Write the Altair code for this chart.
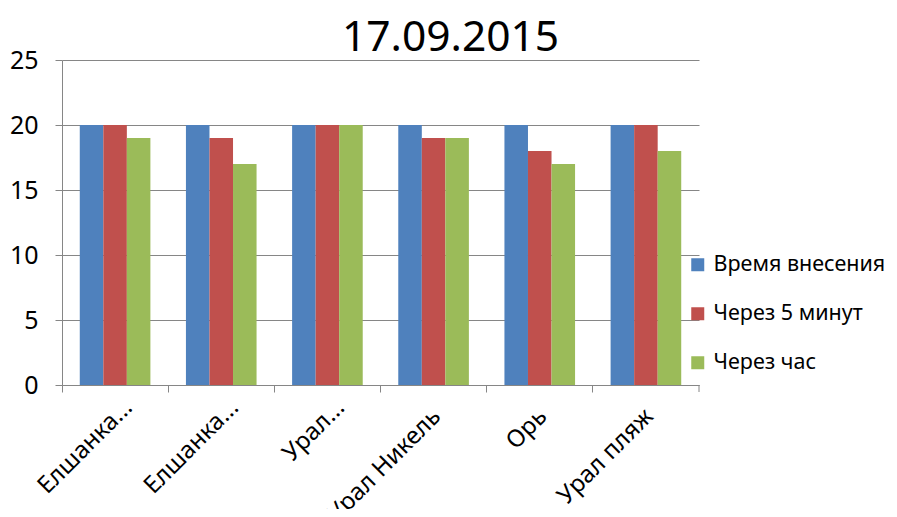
import altair as alt
import pandas as pd
import json

categories = ["Елшанка 1", "Елшанка 2", "Урал 1", "Урал Никель", "Орь", "Урал пляж"]
category_labels = ["Елшанка...", "Елшанка...", "Урал...", "Урал Никель", "Орь", "Урал пляж"]
series = ["Время внесения", "Через 5 минут", "Через час"]
vremya_vneseniya = [20, 20, 20, 20, 20, 20]
cherez_5_minut = [20, 19, 20, 19, 18, 20]
cherez_chas = [19, 17, 20, 19, 17, 18]
colors = ["#4F81BD", "#C0504D", "#9BBB59"]
y_ticks = [0, 5, 10, 15, 20, 25]

rows = []
for s, vals in zip(series, [vremya_vneseniya, cherez_5_minut, cherez_chas]):
    for c, v in zip(categories, vals):
        rows.append({"cat": c, "series": s, "value": v})
df = pd.DataFrame(rows)

label_map = json.dumps(dict(zip(categories, category_labels)), ensure_ascii=False)
full_labels = [c for c, l in zip(categories, category_labels) if not l.endswith("...")]
full_test = "indexof(" + json.dumps(full_labels, ensure_ascii=False) + ", datum.value) >= 0"

FONT = "Noto Sans"
GRID = "#868686"
W, H = 637, 325

bars = alt.Chart(df).mark_bar().encode(
    x=alt.X("cat:N", sort=categories, title=None,
            scale=alt.Scale(paddingInner=0, paddingOuter=0),
            axis=alt.Axis(bandPosition=0, labelAngle=-45, labelAlign="right",
                          labelBaseline="top",
                          labelOffset={"condition": {"test": full_test, "value": -5},
                                       "value": 5},
                          labelPadding={"condition": {"test": full_test, "value": 12},
                                        "value": 3},
                          labelExpr=f"{label_map}[datum.value]",
                          labelFont=FONT, labelFontSize=24, labelColor="#000000",
                          labelLimit=0,
                          tickSize=7, tickColor=GRID, domainColor=GRID, grid=False)),
    xOffset=alt.XOffset("series:N", sort=series,
                        scale=alt.Scale(paddingInner=0, paddingOuter=0.755)),
    y=alt.Y("value:Q", title=None,
            scale=alt.Scale(domain=[0, 25], nice=False),
            axis=alt.Axis(values=y_ticks, tickSize=7, tickColor=GRID, domainColor=GRID,
                          gridColor=GRID, labelFont=FONT, labelFontSize=25,
                          labelColor="#000000", labelPadding=17)),
    color=alt.Color("series:N", sort=series,
                    scale=alt.Scale(domain=series, range=colors),
                    legend=alt.Legend(title=None, orient="none", legendX=625, legendY=194,
                                      symbolType="square", symbolSize=169,
                                      symbolStrokeWidth=0, labelFont=FONT,
                                      labelFontSize=21.5, labelColor="#000000",
                                      labelLimit=0, labelOffset=5, rowPadding=26)),
)

end_tick = alt.Chart(alt.Data(values=[{}])).mark_rule(color=GRID).encode(
    x=alt.value(W), y=alt.value(H), y2=alt.value(H + 7)
)

chart = alt.layer(bars, end_tick).properties(
    width=W,
    height=H,
    title=alt.TitleParams("17.09.2015", font=FONT, fontSize=42.5, fontWeight="normal",
                          color="#000000", anchor="middle", dx=70, offset=-11),
    autosize=alt.AutoSizeParams(type="none"),
    padding={"left": 54, "top": 52, "right": 190, "bottom": 124},
).configure_view(stroke=None)

chart.save("out.html", embed_options={"renderer": "svg", "actions": False})
